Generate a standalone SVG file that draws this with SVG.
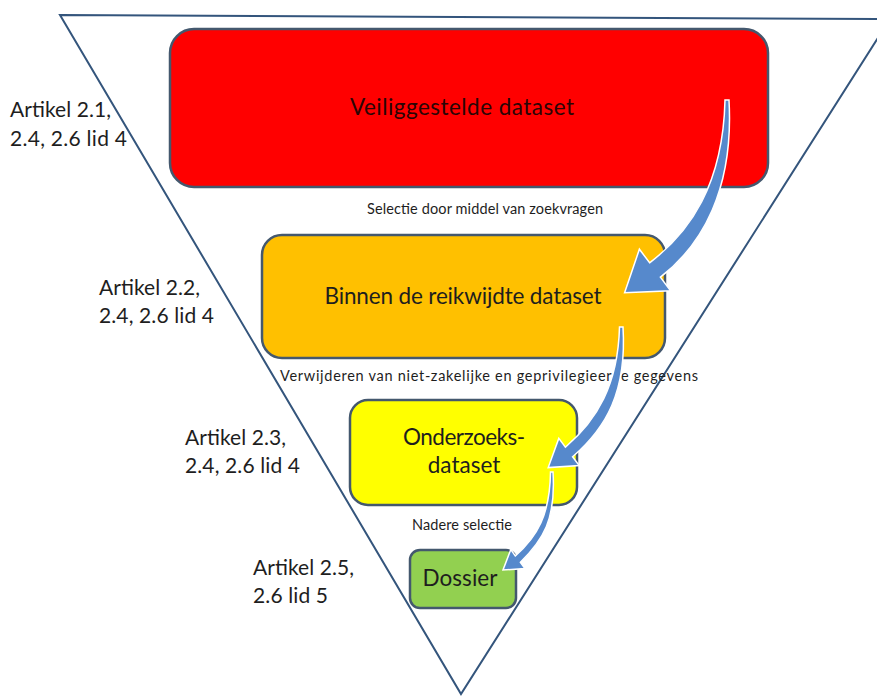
<svg xmlns="http://www.w3.org/2000/svg" width="877" height="696" viewBox="0 0 877 696">
<style>
.box{stroke:#44586e;stroke-width:2.5}
.tri{fill:none;stroke:#34557c;stroke-width:2}
.arrow{fill:#5689cc;stroke:#ffffff;stroke-width:1.5;stroke-linejoin:miter}
text{font-family:Lato,"Liberation Sans",sans-serif;fill:#1e1e1e}
.lbl{font-size:21px}
.cap{font-size:14.5px;text-anchor:middle}
.big{font-size:22.5px;text-anchor:middle}
</style>
<rect width="877" height="696" fill="#ffffff"/>
<g id="funnel">
<polygon class="tri" points="60,15 890,19 461,694"/>
</g>
<g id="node-veiliggestelde">
<rect class="box" x="170" y="29" width="598" height="158" rx="24" fill="#ff0000"/>
<text class="big" x="462" y="115" textLength="224" style="fill:#2a0505">Veiliggestelde dataset</text>
</g>
<g id="node-binnen">
<rect class="box" x="262" y="235" width="403" height="123" rx="20" fill="#ffc000"/>
<text class="big" x="463" y="304" textLength="277">Binnen de reikwijdte dataset</text>
</g>
<g id="node-onderzoeks">
<rect class="box" x="350" y="400" width="227" height="105" rx="18" fill="#ffff00"/>
<text class="big" x="464" y="445" textLength="122">Onderzoeks-</text>
<text class="big" x="464" y="473">dataset</text>
</g>
<g id="node-dossier">
<rect class="box" x="410" y="550" width="106" height="58" rx="10" fill="#92d050"/>
<text class="big" x="460" y="586" textLength="75">Dossier</text>
</g>
<g id="captions">
<text class="cap" x="485" y="214" textLength="236">Selectie door  middel van zoekvragen</text>
<text class="cap" x="489" y="381" textLength="418">Verwijderen van niet-zakelijke en geprivilegieerde gegevens</text>
<text class="cap" x="462" y="530" textLength="100">Nadere selectie</text>
</g>
<g id="labels">
<text class="lbl" x="10" y="117" textLength="101">Artikel 2.1,</text>
<text class="lbl" x="10" y="146" textLength="117">2.4, 2.6 lid 4</text>
<text class="lbl" x="99" y="295" textLength="101">Artikel 2.2,</text>
<text class="lbl" x="99" y="323" textLength="115">2.4, 2.6 lid 4</text>
<text class="lbl" x="185" y="445" textLength="101">Artikel 2.3,</text>
<text class="lbl" x="185" y="473" textLength="115">2.4, 2.6 lid 4</text>
<text class="lbl" x="253" y="575" textLength="101">Artikel 2.5,</text>
<text class="lbl" x="253" y="603" textLength="75">2.6 lid 5</text>
</g>
<g id="connectors">
<path class="arrow" d="M725,100 L729,100 C734,190 702,245 660.4,277.2 L670.6,290.8 L624.6,292.8 L639.4,249.2 L649.6,262.8 C690,232 723,185 725,100 Z"/>
<path class="arrow" d="M619.5,327 L623,327 C627,392 606,428 572.6,456.8 L579.2,465.6 L548.2,467.6 L558.8,438.4 L565.4,447.2 C597,420 618,385 619.5,327 Z"/>
<path class="arrow" d="M550.5,472 L553,472 C556,520 543,540 520.4,562.3 L524.9,568.6 L503,570 L510.8,549.6 L515.3,555.9 C537,537 550,515 550.5,472 Z"/>
</g>
</svg>
